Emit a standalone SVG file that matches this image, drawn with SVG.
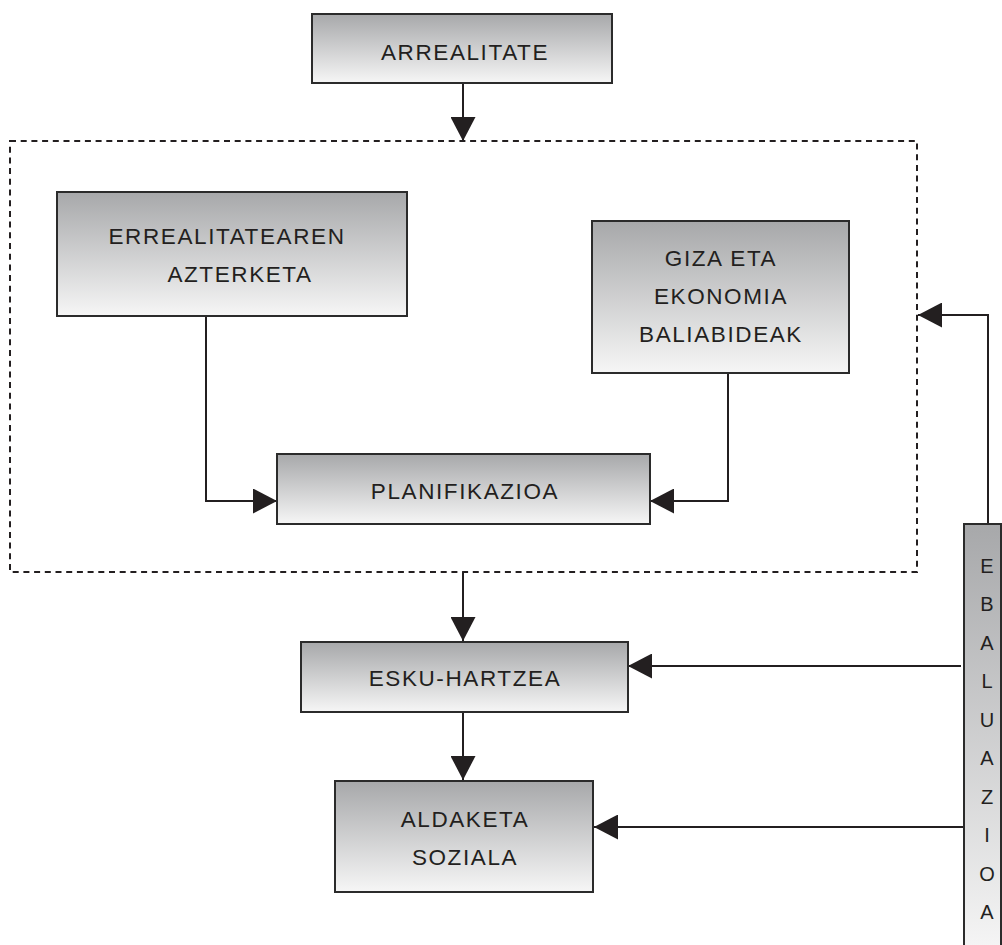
<svg xmlns="http://www.w3.org/2000/svg" width="1002" height="945" viewBox="0 0 1002 945">
<defs>
<linearGradient id="g" x1="0" y1="0" x2="0" y2="1">
<stop offset="0" stop-color="#a7a8aa"/>
<stop offset="1" stop-color="#f6f6f6"/>
</linearGradient>
<marker id="ah" viewBox="0 0 24 25" refX="24" refY="12.5" markerWidth="24" markerHeight="25" markerUnits="userSpaceOnUse" orient="auto">
<path d="M0,0 L24,12.5 L0,25 z" fill="#231f20"/>
</marker>
</defs>
<style>
.box{fill:url(#g);stroke:#2b2b2b;stroke-width:2}
.t{font-family:"Liberation Sans",Arial,sans-serif;font-size:22.5px;letter-spacing:1.6px;fill:#231f20;text-anchor:middle}
.v{font-family:"Liberation Sans",Arial,sans-serif;font-size:20px;fill:#231f20;text-anchor:middle}
.c{fill:none;stroke:#231f20;stroke-width:2}
.d{fill:none;stroke:#231f20;stroke-width:2;stroke-dasharray:6 4.7}
</style>
<rect width="1002" height="945" fill="#fff"/>
<g id="group-dashed"><rect class="d" x="10" y="141" width="907" height="431"/></g>
<g id="connectors">
<path class="c" d="M463,83 V141" marker-end="url(#ah)"/>
<path class="c" d="M206,316 V501 H277" marker-end="url(#ah)"/>
<path class="c" d="M728,373 V501 H650" marker-end="url(#ah)"/>
<path class="c" d="M463,572 V641" marker-end="url(#ah)"/>
<path class="c" d="M463,712 V780" marker-end="url(#ah)"/>
<path class="c" d="M961,666 H628" marker-end="url(#ah)"/>
<path class="c" d="M964,827 H594" marker-end="url(#ah)"/>
<path class="c" d="M988,524 V315 H918" marker-end="url(#ah)"/>
</g>
<g id="arrealitate"><rect class="box" x="312" y="14" width="300" height="69"/><text class="t" x="465" y="60">ARREALITATE</text></g>
<g id="azterketa"><rect class="box" x="57" y="192" width="350" height="124"/><text class="t" x="227" y="244">ERREALITATEAREN</text><text class="t" x="240" y="282">AZTERKETA</text></g>
<g id="baliabideak"><rect class="box" x="592" y="221" width="257" height="152"/><text class="t" x="721" y="266">GIZA ETA</text><text class="t" x="721" y="304">EKONOMIA</text><text class="t" x="721" y="342">BALIABIDEAK</text></g>
<g id="planifikazioa"><rect class="box" x="277" y="454" width="373" height="70"/><text class="t" x="465" y="499">PLANIFIKAZIOA</text></g>
<g id="esku-hartzea"><rect class="box" x="301" y="642" width="327" height="70"/><text class="t" x="465" y="686">ESKU-HARTZEA</text></g>
<g id="aldaketa"><rect class="box" x="335" y="781" width="258" height="111"/><text class="t" x="465" y="827">ALDAKETA</text><text class="t" x="465" y="865">SOZIALA</text></g>
<g id="ebaluazioa"><rect class="box" x="964" y="524" width="37" height="430"/>
<text class="v" x="987" y="573">E</text>
<text class="v" x="987" y="611">B</text>
<text class="v" x="987" y="650">A</text>
<text class="v" x="987" y="688">L</text>
<text class="v" x="987" y="727">U</text>
<text class="v" x="987" y="765">A</text>
<text class="v" x="987" y="804">Z</text>
<text class="v" x="987" y="842">I</text>
<text class="v" x="987" y="881">O</text>
<text class="v" x="987" y="919">A</text>
</g>
</svg>
